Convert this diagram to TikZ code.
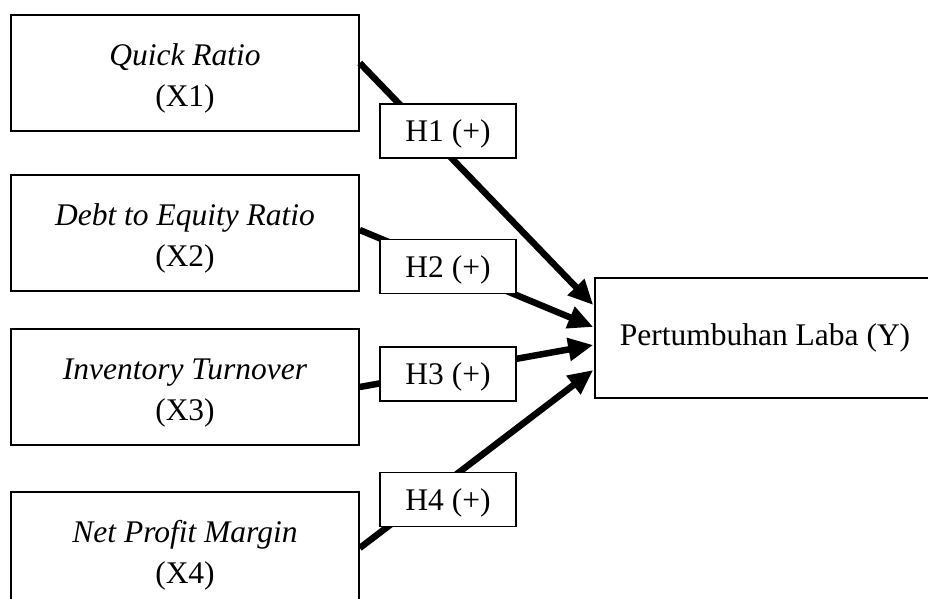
\documentclass[tikz,border=0pt]{standalone}
\usepackage{fontspec}
\setmainfont{Liberation Serif}
\usetikzlibrary{arrows.meta,calc}

% two-line variable caption, set a little below the box centre
\newcommand{\varcaption}[2]{%
  \raisebox{-5pt}[\height][\depth]{%
    \begin{tabular}{@{}c@{}}\textit{#1}\\(#2)\end{tabular}}}

\tikzset{
  varbox/.style={draw=black, line width=1.5pt, fill=white, align=center,
    minimum width=348pt, minimum height=116pt, inner sep=0pt,
    font=\fontsize{31.5}{41}\selectfont},
  outbox/.style={draw=black, line width=1.5pt, fill=white,
    minimum width=340pt, minimum height=120pt, inner sep=0pt,
    font=\fontsize{31.5}{40}\selectfont},
  hypbox/.style={draw=black, line width=1.5pt, fill=white,
    minimum width=136pt, minimum height=54pt, inner sep=0pt,
    font=\fontsize{31.5}{36}\selectfont},
  link/.style={line width=6.5pt, -{Triangle[length=25pt,width=22pt]}}
}

\begin{document}
\begin{tikzpicture}[x=1pt,y=-1pt]
  \useasboundingbox (0,0) rectangle (928,599);
  \clip (0,0) rectangle (928,599);

  % independent variables
  \node[varbox] (x1) at (185,73)  {\varcaption{Quick Ratio}{X1}};
  \node[varbox] (x2) at (185,233) {\varcaption{Debt to Equity Ratio}{X2}};
  \node[varbox] (x3) at (185,387) {\varcaption{Inventory Turnover}{X3}};
  \node[varbox] (x4) at (185,550) {\varcaption{Net Profit Margin}{X4}};

  % dependent variable
  \node[outbox] (yv) at (765,338) {Pertumbuhan Laba (Y)};

  % hypothesised effects
  \draw[link] ($(x1.east)+(0,-10)$) -- ($(yv.west)+(-1,-33)$);
  \draw[link] ($(x2.east)+(0,-3)$)  -- ($(yv.west)+(-1,-11)$);
  \draw[link] ($(x3.east)+(0,0)$)   -- ($(yv.west)+(-1,7)$);
  \draw[link] ($(x4.east)+(0,-2)$)  -- ($(yv.west)+(-1,32)$);

  % hypothesis labels
  \node[hypbox] (h1) at (448,131)   {\raisebox{-3pt}[\height][\depth]{H1 (+)}};
  \node[hypbox] (h2) at (448,266.5) {\raisebox{-3pt}[\height][\depth]{H2 (+)}};
  \node[hypbox] (h3) at (448,374)   {\raisebox{-3pt}[\height][\depth]{H3 (+)}};
  \node[hypbox] (h4) at (448,499.5) {\raisebox{-3pt}[\height][\depth]{H4 (+)}};
\end{tikzpicture}
\end{document}
